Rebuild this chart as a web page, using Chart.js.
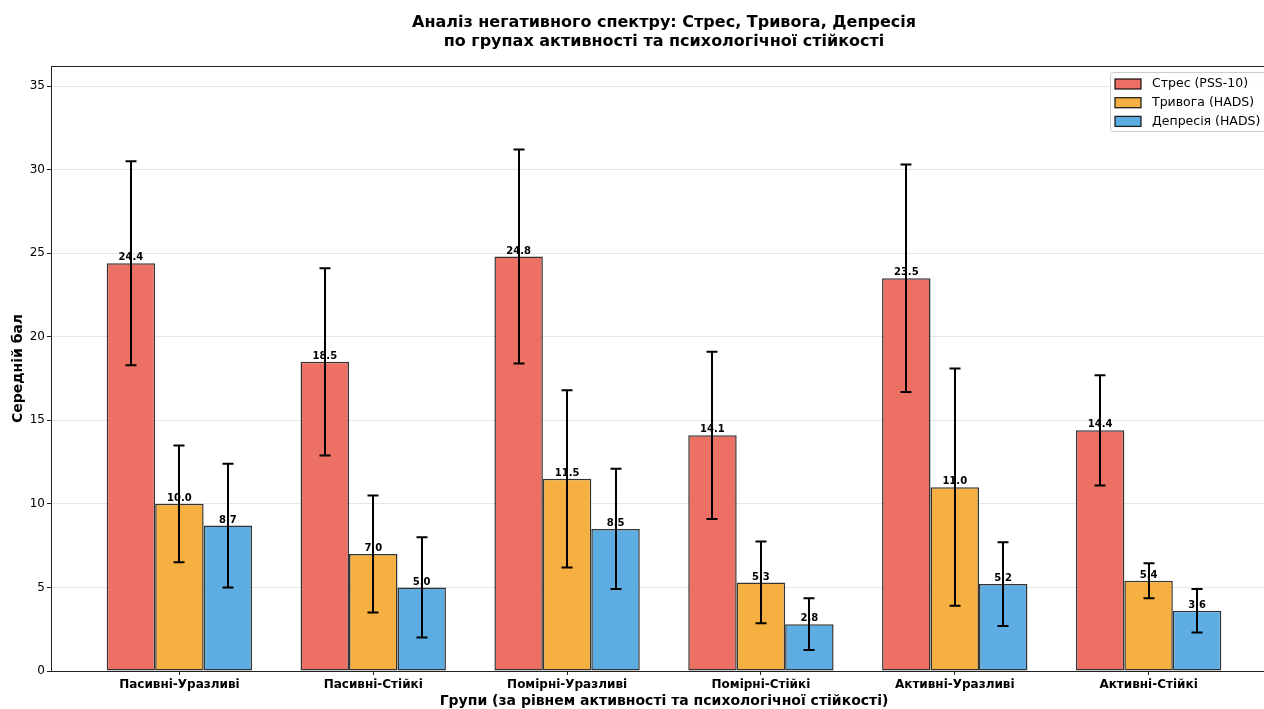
<!DOCTYPE html>
<html>
<head>
<meta charset="utf-8">
<script src="https://cdn.jsdelivr.net/npm/chart.js@4.4.1/dist/chart.umd.min.js"></script>
<style>
  html, body { margin: 0; padding: 0; background: #fff; overflow: hidden; }
  #wrap { width: 1280px; height: 709px; }
</style>
</head>
<body>
<div id="wrap"><canvas id="chart" width="1280" height="709"></canvas></div>
<script>
// Groups (activity level × psychological resilience)
const groups = ['Пасивні-Уразливі', 'Пасивні-Стійкі', 'Помірні-Уразливі', 'Помірні-Стійкі', 'Активні-Уразливі', 'Активні-Стійкі'];

// Mean scores and standard deviations per scale
const stressMean     = [24.4, 18.5, 24.8, 14.1, 23.5, 14.4];
const stressSd       = [6.1, 5.6, 6.4, 5.0, 6.8, 3.3];
const anxietyMean    = [10.0, 7.0, 11.5, 5.3, 11.0, 5.4];
const anxietySd      = [3.5, 3.5, 5.3, 2.45, 7.1, 1.05];
const depressionMean = [8.7, 5.0, 8.5, 2.8, 5.2, 3.6];
const depressionSd   = [3.7, 3.0, 3.6, 1.55, 2.5, 1.3];

const seriesNames = ['Стрес (PSS-10)', 'Тривога (HADS)', 'Депресія (HADS)'];
const yTicks = [0, 5, 10, 15, 20, 25, 30, 35];

const titleLines = ['Аналіз негативного спектру: Стрес, Тривога, Депресія', 'по групах активності та психологічної стійкості'];

const FONT = '"DejaVu Sans", "Liberation Sans", sans-serif';

function toPoints(values) {
  return values.map((v, i) => ({ x: i, y: v }));
}

// Value labels above each bar, then the ±SD whiskers on top
const errorBarsPlugin = {
  id: 'errorBars',
  afterDatasetsDraw(chart) {
    const ctx = chart.ctx;
    const yScale = chart.scales.y;
    ctx.save();
    ctx.font = 'bold 10px ' + FONT;
    ctx.fillStyle = '#000';
    ctx.textAlign = 'center';
    ctx.textBaseline = 'bottom';
    chart.data.datasets.forEach((ds, di) => {
      const meta = chart.getDatasetMeta(di);
      meta.data.forEach((bar, i) => {
        const v = ds.data[i].y;
        ctx.fillText(v.toFixed(1), bar.x, yScale.getPixelForValue(v) - 0.5);
      });
    });
    ctx.strokeStyle = '#000';
    ctx.lineWidth = 2;
    chart.data.datasets.forEach((ds, di) => {
      const meta = chart.getDatasetMeta(di);
      meta.data.forEach((bar, i) => {
        const v = ds.data[i].y;
        const sd = ds.errors[i];
        const yTop = yScale.getPixelForValue(v + sd);
        const yBot = yScale.getPixelForValue(v - sd);
        const x = Math.round(bar.x);
        ctx.beginPath();
        ctx.moveTo(x, yTop);
        ctx.lineTo(x, yBot);
        ctx.moveTo(x - 5.5, yTop);
        ctx.lineTo(x + 5.5, yTop);
        ctx.moveTo(x - 5.5, yBot);
        ctx.lineTo(x + 5.5, yBot);
        ctx.stroke();
      });
    });
    ctx.restore();
  }
};

// Box frame, two-line heading centred over the plot, and the in-plot legend
const decorPlugin = {
  id: 'decor',
  afterDraw(chart) {
    const ctx = chart.ctx;
    const a = chart.chartArea;
    ctx.save();
    ctx.strokeStyle = '#222';
    ctx.lineWidth = 1;
    ctx.strokeRect(Math.round(a.left) + 0.5, Math.round(a.top) + 0.5, Math.round(a.right - a.left), Math.round(a.bottom - a.top));

    // heading
    ctx.fillStyle = '#000';
    ctx.font = 'bold 16px ' + FONT;
    ctx.textAlign = 'center';
    ctx.textBaseline = 'middle';
    const cx = (a.left + a.right) / 2;
    ctx.fillText(titleLines[0], cx, 23);
    ctx.fillText(titleLines[1], cx, 42);

    // legend
    const boxW = 159, boxH = 59;
    const bx = a.right - 8 - boxW, by = a.top + 6;
    ctx.fillStyle = 'rgba(255,255,255,0.85)';
    ctx.strokeStyle = '#cccccc';
    ctx.lineWidth = 1;
    ctx.beginPath();
    ctx.roundRect(bx + 0.5, by + 0.5, boxW, boxH, 3);
    ctx.fill();
    ctx.stroke();
    ctx.font = '12.5px ' + FONT;
    ctx.textAlign = 'left';
    ctx.textBaseline = 'middle';
    chart.data.datasets.forEach((ds, i) => {
      const cy = by + 12 + i * 18.7;
      ctx.fillStyle = ds.backgroundColor;
      ctx.fillRect(bx + 5, cy - 5, 26, 10);
      ctx.strokeStyle = 'rgba(0,0,0,0.85)';
      ctx.lineWidth = 1.3;
      ctx.strokeRect(bx + 5, cy - 5, 26, 10);
      ctx.fillStyle = '#000';
      ctx.fillText(ds.label, bx + 42, cy);
    });
    ctx.restore();
  }
};

const barStyle = {
  borderColor: 'rgba(0,0,0,0.8)',
  borderWidth: 1.5,
  borderSkipped: false,
  categoryPercentage: 0.75,
  barPercentage: 1.0
};

new Chart(document.getElementById('chart'), {
  type: 'bar',
  data: {
    datasets: [
      Object.assign({ label: seriesNames[0], data: toPoints(stressMean), errors: stressSd, backgroundColor: 'rgb(236,112,99)' }, barStyle),
      Object.assign({ label: seriesNames[1], data: toPoints(anxietyMean), errors: anxietySd, backgroundColor: 'rgb(245,176,65)' }, barStyle),
      Object.assign({ label: seriesNames[2], data: toPoints(depressionMean), errors: depressionSd, backgroundColor: 'rgb(93,173,226)' }, barStyle)
    ]
  },
  options: {
    responsive: false,
    animation: false,
    devicePixelRatio: 1,
    layout: { padding: { top: 66, right: 3, left: 0, bottom: 0 } },
    plugins: {
      legend: { display: false },
      title: { display: false },
      tooltip: { enabled: false }
    },
    scales: {
      x: {
        type: 'linear',
        min: -0.6625,
        max: 5.6625,
        offset: false,
        afterBuildTicks: axis => { axis.ticks = groups.map((_, i) => ({ value: i })); },
        afterFit: s => { s.height = 38; },
        ticks: {
          callback: v => groups[v],
          autoSkip: false,
          maxRotation: 0,
          minRotation: 0,
          padding: 3,
          color: '#000',
          font: { family: FONT, size: 12, weight: 'bold' }
        },
        grid: { offset: false, drawOnChartArea: false, drawTicks: true, tickLength: 4, tickColor: '#222' },
        border: { display: true, color: '#222' },
        title: {
          display: true,
          text: 'Групи (за рівнем активності та психологічної стійкості)',
          color: '#000',
          font: { family: FONT, size: 14, weight: 'bold' },
          padding: { top: 0, bottom: -1 }
        }
      },
      y: {
        min: 0,
        max: 36.2,
        afterBuildTicks: axis => { axis.ticks = yTicks.map(v => ({ value: v })); },
        afterFit: s => { s.width = 51; },
        ticks: { color: '#000', padding: 2, font: { family: FONT, size: 12 } },
        grid: { color: '#e6e6e6', lineWidth: 1, drawTicks: true, tickLength: 4, tickColor: '#222' },
        border: { display: true, color: '#222' },
        title: {
          display: true,
          text: 'Середній бал',
          color: '#000',
          font: { family: FONT, size: 14, weight: 'bold' },
          padding: { top: 10, bottom: 0 }
        }
      }
    }
  },
  plugins: [errorBarsPlugin, decorPlugin]
});
</script>
</body>
</html>
